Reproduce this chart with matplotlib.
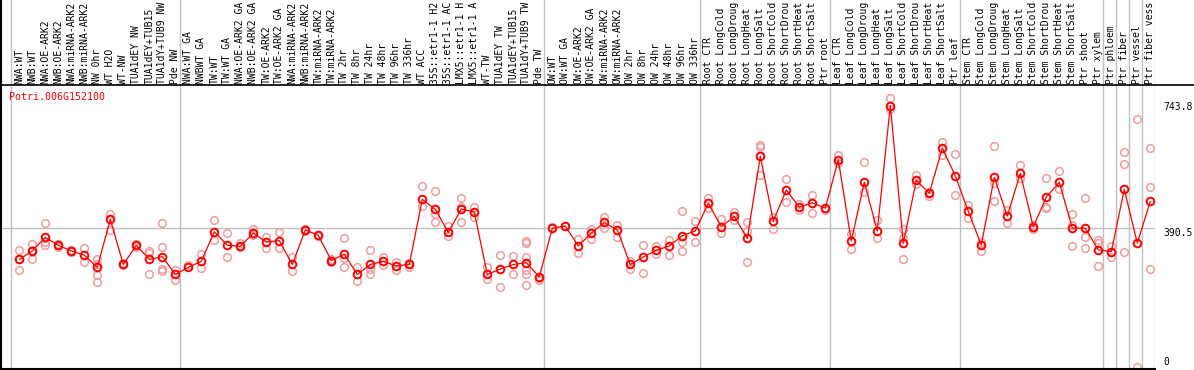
import numpy as np
import matplotlib
matplotlib.use("Agg")
import matplotlib.pyplot as plt
import matplotlib.transforms as mtransforms
from matplotlib.lines import Line2D

gene = "Potri.006G152100"

labels = [
    # NW
    "NWA:WT", "NWB:WT", "NWA:OE-ARK2", "NWB:OE-ARK2", "NWA:miRNA-ARK2", "NWB:miRNA-ARK2",
    "NW 0hr", "WT H2O", "WT-NW", "TUA1dEY NW", "TUA1dEY+TUB15 NW", "TUA1dY+TUB9 NW", "Pde NW",
    # TW
    "NWA:WT GA", "NWBWT GA", "TW:WT", "TW:WT GA", "NWA:OE-ARK2 GA", "NWB:OE-ARK2 GA",
    "TW:OE-ARK2", "TW:OE-ARK2 GA", "NWA:miRNA-ARK2", "NWB:miRNA-ARK2", "TW:miRNA-ARK2",
    "TW:miRNA-ARK2", "TW 2hr", "TW 8hr", "TW 24hr", "TW 48hr", "TW 96hr", "TW 336hr",
    "WT ACC", "35S::etr1-1 H2O", "35S::etr1-1 ACC", "LMX5::etr1-1 H2O", "LMX5::etr1-1 ACC",
    "WT-TW", "TUA1dEY TW", "TUA1dEY+TUB15 TW", "TUA1dY+TUB9 TW", "Pde TW",
    # OW
    "OW:WT", "OW:WT GA", "OW:OE-ARK2", "OW:OE-ARK2 GA", "OW:miRNA-ARK2", "OW:miRNA-ARK2",
    "OW 2hr", "OW 8hr", "OW 24hr", "OW 48hr", "OW 96hr", "OW 336hr",
    # root
    "Root CTR", "Root LongCold", "Root LongDrought", "Root LongHeat", "Root LongSalt",
    "Root ShortCold", "Root ShortDrought", "Root ShortHeat", "Root ShortSalt", "Ptr root",
    # leaf
    "Leaf CTR", "Leaf LongCold", "Leaf LongDrought", "Leaf LongHeat", "Leaf LongSalt",
    "Leaf ShortCold", "Leaf ShortDrought", "Leaf ShortHeat", "Leaf ShortSalt", "Ptr leaf",
    # stem
    "Stem CTR", "Stem LongCold", "Stem LongDrought", "Stem LongHeat", "Stem LongSalt",
    "Stem ShortCold", "Stem ShortDrought", "Stem ShortHeat", "Stem ShortSalt", "Ptr shoot",
    "Ptr xylem",
    "Ptr phloem", "Ptr fiber", "Ptr vessel", "Ptr fiber vessel",
]

means = [
    302, 326, 364, 342, 326, 314, 280, 415, 288, 342, 302, 310, 260,
    280, 297, 380, 342, 339, 376, 351, 355, 288, 385, 370, 299, 317, 260, 288, 297, 284, 288,
    471, 443, 378, 444, 435, 260, 275, 288, 293, 253,
    390, 396, 340, 376, 406, 385, 288, 309, 328, 340, 369, 382,
    460, 394, 423, 361, 592, 410, 497, 449, 461, 446,
    582, 354, 519, 382, 734, 348, 524, 488, 615, 537,
    437, 343, 533, 424, 544, 394, 477, 519, 390, 390, 329,
    324, 499, 348, 465,
]

replicates = [
    [329, 272, 302], [345, 302, 328], [404, 342, 350], [345, 338], [329, 323],
    [333, 296], [302, 258, 240, 290], [430, 385], [291, 286], [345, 338],
    [326, 321, 260], [404, 338, 274, 270], [272, 244],
    [287], [317, 277], [412, 357], [376, 308], [349, 336], [387, 371], [366, 333],
    [378, 333], [308, 270], [383, 387], [368, 372], [296, 302], [361, 305, 280],
    [282, 242], [329, 275, 261], [310, 287], [296, 272], [291, 282], [508, 452],
    [494, 429, 408], [396, 368], [475, 450, 407], [450, 422], [282, 248], [315, 226],
    [312, 260], [354, 349, 310, 272, 261, 230], [249, 244],
    [392], [396], [359, 319], [388, 360], [420, 391], [399, 366], [298, 274],
    [342, 263], [340, 317], [357, 316], [437, 352, 325], [409, 350],
    [475, 447], [416, 376], [435, 413], [407, 383, 294], [624, 617, 539], [422, 387],
    [527, 463], [458, 441], [483, 432], [448, 442],
    [596, 572], [374, 331], [575, 492], [413, 362], [755, 724], [387, 303, 362],
    [539, 513], [492, 480], [631, 595], [598, 482],
    [455, 418], [352, 327], [621, 466, 518], [441, 404], [567, 530], [399, 387],
    [530, 450, 446], [550, 499], [430, 399, 340], [474, 364, 333], [357, 349, 284],
    [340, 310], [603, 570, 322], [696, 0], [614, 505, 275],
]

group_starts = [0, 13, 41, 53, 63, 73, 84, 85, 86, 87, 88]
yticks = [743.8, 390.5, 0]

W, H = 1194, 370
fig = plt.figure(figsize=(W / 100, H / 100), dpi=100)
ax = fig.add_axes([0, 0, 1155 / W, 1])
ax.set_axis_off()

# pixel scale of the original: 13 px per sample, 0.356 px per unit
ax.set_xlim(-19.3 / 13, (1155 - 19.3) / 13)
ax.set_ylim(-3 / 0.356, 367 / 0.356)

for k in group_starts:
    ax.axvline(k - 0.638, color="#c0c0c0", lw=1)
ax.axhline(yticks[1], color="#c0c0c0", lw=1)

x = np.arange(len(means))
for i, r in enumerate(replicates):
    ax.plot([i] * len(r), r, "o", mfc="none", mec="#f09c9c", ms=5.5, mew=1.1, clip_on=False)
ax.plot(x, means, "-", color="red", lw=0.9)
ax.plot(x, means, "o", mfc="none", mec="red", ms=5.5, mew=1.4)

mono = "DejaVu Sans Mono"
# the header column only has room for 14 characters, like the original
trans = mtransforms.blended_transform_factory(ax.transData, ax.transAxes)
for i, lab in enumerate(labels):
    ax.text(i, 1 - 84 / H, lab[:14].rstrip(), rotation=90, rotation_mode="anchor", ha="left",
            va="center", family=mono, size=7.0, transform=trans, clip_on=False)

tx = 1163 / 1155
ytrans = mtransforms.blended_transform_factory(ax.transAxes, ax.transData)
ax.text(tx, yticks[0], "743.8", va="top", ha="left", family=mono, size=7.0,
        transform=ytrans, clip_on=False)
ax.text(tx, yticks[1], "390.5", va="top", ha="left", family=mono, size=7.0,
        transform=ytrans, clip_on=False)
ax.text(tx, yticks[2], "0", va="bottom", ha="left", family=mono, size=7.0,
        transform=ytrans, clip_on=False)

fig.text(9 / W, 1 - 97 / H, gene, color="red", va="center", ha="left", family=mono, size=7.2)

fig.add_artist(Line2D([0, 1], [1 - 85 / H] * 2, color="black", lw=1.2))
fig.add_artist(Line2D([1 / W] * 2, [0, 1], color="black", lw=1.5))
fig.add_artist(Line2D([0, 1155 / W], [1.5 / H] * 2, color="black", lw=1.5))

fig.savefig("out.png", dpi=100)
